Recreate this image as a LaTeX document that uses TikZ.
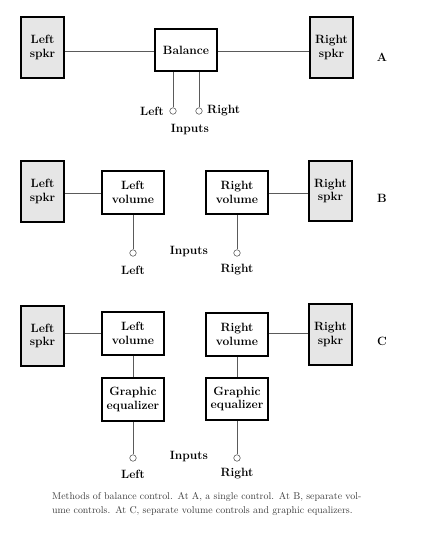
\documentclass[tikz,border=0pt]{standalone}
\usepackage{tikz}
\usetikzlibrary{calc}
\definecolor{spkrgray}{RGB}{230,230,230}
\definecolor{wiregray}{RGB}{90,90,90}
\definecolor{captiongray}{RGB}{60,60,60}
\newcommand{\boxfont}{\bfseries\fontsize{12}{13.5}\selectfont}

\begin{document}
\begin{tikzpicture}[x=1pt,y=-1pt,
	spkr/.style={draw, line width=2.4pt, fill=spkrgray, minimum width=42.5pt, minimum height=60.5pt, inner sep=0pt, align=center, font=\boxfont},
	ctrl/.style={draw, line width=2.4pt, fill=white, minimum width=61.5pt, minimum height=42.5pt, inner sep=0pt, align=center, font=\boxfont},
	jack/.style={draw=wiregray, circle, fill=white, minimum size=6.5pt, inner sep=0pt, line width=0.6pt},
	wire/.style={draw=wiregray, line width=0.7pt},
	lbl/.style={font=\boxfont, inner sep=0pt}]
	\useasboundingbox (0,0) rectangle (435,538);

	\node[spkr] (lspkrA) at (42.5,47.5) {Left\\spkr};
	\node[ctrl] (balance) at (186,50) {Balance};
	\node[spkr] (rspkrA) at (331.5,47.5) {Right\\spkr};
	\node[lbl] (tagA) at (382,57) {A};
	\node[jack] (jackAl) at (173,111) {};
	\node[jack] (jackAr) at (199,111) {};
	\node[lbl, anchor=east] (leftA) at (164,111) {Left};
	\node[lbl, anchor=west] (rightA) at (207,111) {Right};
	\node[lbl] (inputsA) at (190,130) {Inputs};

	\draw[wire] (balance.west |- 0,51) -- (lspkrA.east |- 0,51);
	\draw[wire] (balance.east |- 0,51) -- (rspkrA.west |- 0,51);
	\draw[wire] (jackAl) -- (jackAl |- balance.south);
	\draw[wire] (jackAr) -- (jackAr |- balance.south);

	\node[spkr] (lspkrB) at (42.5,191.5) {Left\\spkr};
	\node[ctrl] (lvolB) at (133,192.5) {Left\\volume};
	\node[ctrl] (rvolB) at (237,192.5) {Right\\volume};
	\node[spkr] (rspkrB) at (330.5,191) {Right\\spkr};
	\node[lbl] (tagB) at (382,198) {B};
	\node[jack] (jackBl) at (133,253) {};
	\node[jack] (jackBr) at (237,253) {};
	\node[lbl] (leftB) at (133,270) {Left};
	\node[lbl] (rightB) at (237,270) {Right};
	\node[lbl] (inputsB) at (189,252) {Inputs};

	\draw[wire] (lvolB.west |- 0,193) -- (lspkrB.east |- 0,193);
	\draw[wire] (rvolB.east |- 0,193) -- (rspkrB.west |- 0,193);
	\draw[wire] (jackBl) -- (lvolB.south);
	\draw[wire] (jackBr) -- (rvolB.south);

	\node[spkr] (lspkrC) at (42.5,336) {Left\\spkr};
	\node[ctrl] (lvolC) at (133,333.5) {Left\\volume};
	\node[ctrl] (rvolC) at (237,334.5) {Right\\volume};
	\node[spkr] (rspkrC) at (330.5,334.5) {Right\\spkr};
	\node[lbl] (tagC) at (382,341) {C};
	\node[ctrl] (leqC) at (133,399.5) {Graphic\\equalizer};
	\node[ctrl] (reqC) at (237,399) {Graphic\\equalizer};
	\node[jack] (jackCl) at (133,458) {};
	\node[jack] (jackCr) at (237,458) {};
	\node[lbl] (leftC) at (133,474) {Left};
	\node[lbl] (rightC) at (237,474) {Right};
	\node[lbl] (inputsC) at (189,457) {Inputs};

	\draw[wire] (lvolC.west |- 0,333) -- (lspkrC.east |- 0,333);
	\draw[wire] (rvolC.east |- 0,333) -- (rspkrC.west |- 0,333);
	\draw[wire] (lvolC.south) -- (leqC.north);
	\draw[wire] (rvolC.south) -- (reqC.north);
	\draw[wire] (jackCl) -- (leqC.south);
	\draw[wire] (jackCr) -- (reqC.south);

	\node[anchor=north west, inner sep=0pt, text width=340pt, align=left, text=captiongray,
		font=\fontsize{9.9}{14.5}\selectfont] (caption) at (52,492)
		{Methods of balance control. At A, a single control. At B, separate vol-\\ume controls. At C, separate volume controls and graphic equalizers.};
\end{tikzpicture}
\end{document}
